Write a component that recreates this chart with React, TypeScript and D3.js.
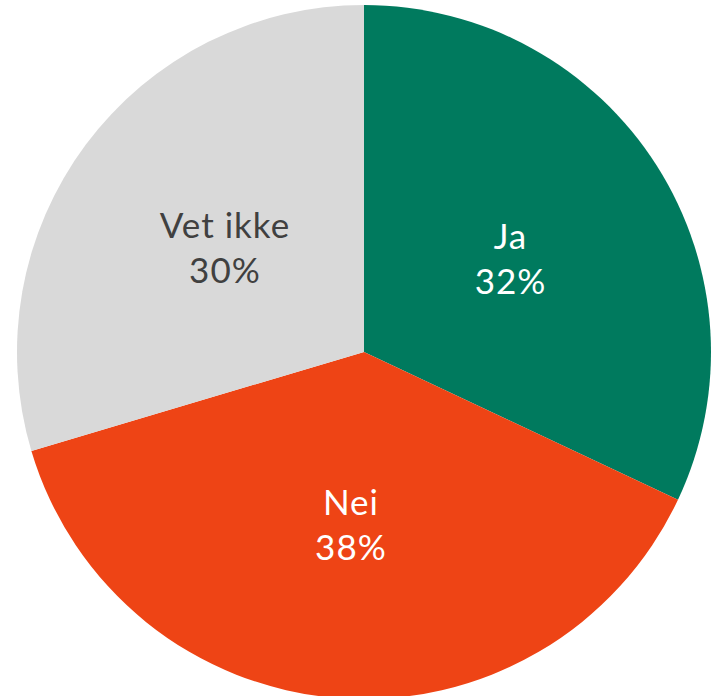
import React from "react";
import * as d3 from "d3";

const categories = ["Ja", "Nei", "Vet ikke"];
const values = [32.0, 38.4, 29.6];
const colors = ["#007A5E", "#EE4415", "#D9D9D9"];
const textColors = ["#FFFFFF", "#FFFFFF", "#404040"];

export default function App() {
  const width = 712;
  const height = 696;
  const cx = 364;
  const cy = 352;
  const r = 347;
  const data = categories.map((c, i) => ({ c, v: values[i], i }));
  const pie = d3.pie<any>().value((d) => d.v).sort(null);
  const arcs = pie(data);
  const arc = d3.arc<any>().innerRadius(0).outerRadius(r);
  const labelArc = d3.arc<any>().innerRadius(r * 0.5).outerRadius(r * 0.5);
  return (
    <svg
      width={width}
      height={height}
      style={{ position: "absolute", left: 0, top: 0, background: "#fff" }}
    >
      <g transform={`translate(${cx},${cy})`}>
        {arcs.map((a, i) => (
          <path key={i} d={arc(a) as string} fill={colors[i]} />
        ))}
        {arcs.map((a, i) => {
          const [x, y] = labelArc.centroid(a);
          return (
            <text
              key={"t" + i}
              x={x}
              y={y}
              textAnchor="middle"
              fill={textColors[i]}
              fontFamily="Lato, 'DejaVu Sans', sans-serif"
              fontSize={35}
              letterSpacing={1}
            >
              <tspan x={x} dy={-10}>{a.data.c}</tspan>
              <tspan x={x} dy={45}>{Math.round(a.data.v) + "%"}</tspan>
            </text>
          );
        })}
      </g>
    </svg>
  );
}
